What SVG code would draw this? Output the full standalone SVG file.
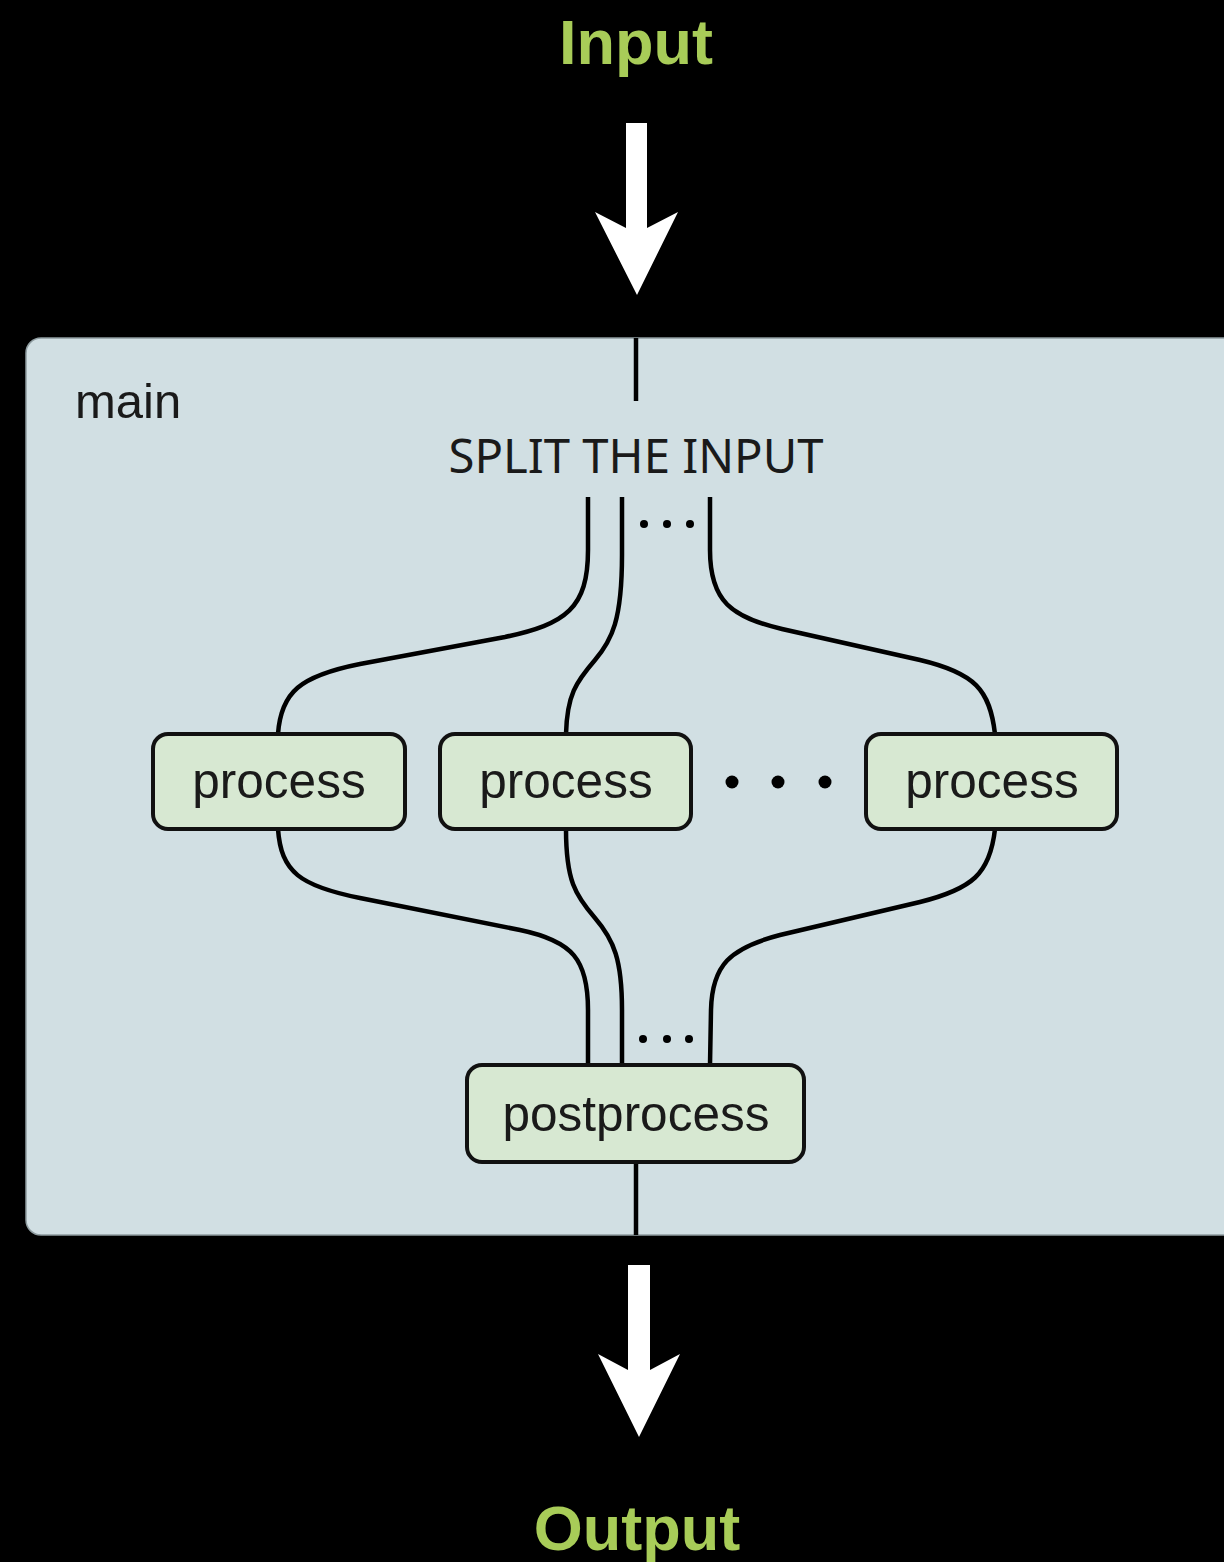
<svg xmlns="http://www.w3.org/2000/svg" width="1224" height="1562" viewBox="0 0 1224 1562">
  <style>
    .title { font-family: "Liberation Sans", Arial, sans-serif; font-weight: bold; font-size: 63px; fill: #a8cc58; text-anchor: middle; }
    .label { font-family: "Liberation Sans", Arial, sans-serif; font-size: 49.5px; fill: #1a1a1a; text-anchor: middle; }
    .box { fill: #d7e8d2; stroke: #111; stroke-width: 4; }
    .wire { fill: none; stroke: #000; stroke-width: 4.5; }
    .bigarrow { fill: #fff; }
    .dot { fill: #000; }
  </style>

  <rect x="0" y="0" width="1224" height="1562" fill="#000"/>

  <!-- titles -->
  <text class="title" x="636" y="64">Input</text>
  <text class="title" x="637" y="1550">Output</text>

  <!-- big white arrows -->
  <path class="bigarrow" d="M626 123 H647 V228 L678 212 L637 295 L595 212 L626 228 Z"/>
  <path class="bigarrow" d="M628 1265 H650 V1370 L680 1354 L639 1437 L598 1354 L628 1370 Z"/>

  <!-- main container -->
  <g id="main">
    <rect x="26" y="338" width="1230" height="897" rx="15" fill="#d1dfe3" stroke="#8e9ca0" stroke-width="1.5"/>
    <text x="75" y="418" font-family="'Liberation Sans', Arial, sans-serif" font-size="49" fill="#1a1a1a">main</text>
    <text x="636" y="473" font-family="'Noto Sans', 'DejaVu Sans', sans-serif" font-size="48" fill="#1a1a1a" text-anchor="middle" textLength="375" lengthAdjust="spacingAndGlyphs">SPLIT THE INPUT</text>
  </g>

  <!-- connectors -->
  <g id="connectors">
    <path class="wire" d="M636 338 V401"/>
    <path class="wire" d="M588 497 V550 C588 608 566 624 505 637 L360 664 C300 676 281 692 278 734"/>
    <path class="wire" d="M622 497 V555 C622 620 612 640 595 660 C576 682 567 695 566 734"/>
    <path class="wire" d="M710 497 V550 C710 602 732 617 782 629 L920 660 C975 673 990 690 995 734"/>
    <path class="wire" d="M278 829 C281 872 300 886 360 898 L520 930 C573 941 588 960 588 1010 V1065"/>
    <path class="wire" d="M566 829 C566 880 575 895 595 918 C614 940 622 960 622 1010 V1065"/>
    <path class="wire" d="M995 829 C990 874 972 889 920 902 L780 935 C730 948 712 965 711 1010 L710 1065"/>
    <path class="wire" d="M636 1162 V1235"/>
    <circle class="dot" cx="644" cy="524" r="4"/>
    <circle class="dot" cx="667" cy="524" r="4"/>
    <circle class="dot" cx="690" cy="524" r="4"/>
    <circle class="dot" cx="643" cy="1039" r="4"/>
    <circle class="dot" cx="667" cy="1039" r="4"/>
    <circle class="dot" cx="689" cy="1039" r="4"/>
    <circle class="dot" cx="732" cy="782" r="6.5"/>
    <circle class="dot" cx="778" cy="782" r="6.5"/>
    <circle class="dot" cx="825" cy="782" r="6.5"/>
  </g>

  <!-- process nodes -->
  <g id="process-1">
    <rect class="box" x="153" y="734" width="252" height="95" rx="15"/>
    <text class="label" x="279" y="798">process</text>
  </g>
  <g id="process-2">
    <rect class="box" x="440" y="734" width="251" height="95" rx="15"/>
    <text class="label" x="566" y="798">process</text>
  </g>
  <g id="process-n">
    <rect class="box" x="866" y="734" width="251" height="95" rx="15"/>
    <text class="label" x="992" y="798">process</text>
  </g>
  <g id="postprocess">
    <rect class="box" x="467" y="1065" width="337" height="97" rx="15"/>
    <text class="label" x="636" y="1131">postprocess</text>
  </g>
</svg>
